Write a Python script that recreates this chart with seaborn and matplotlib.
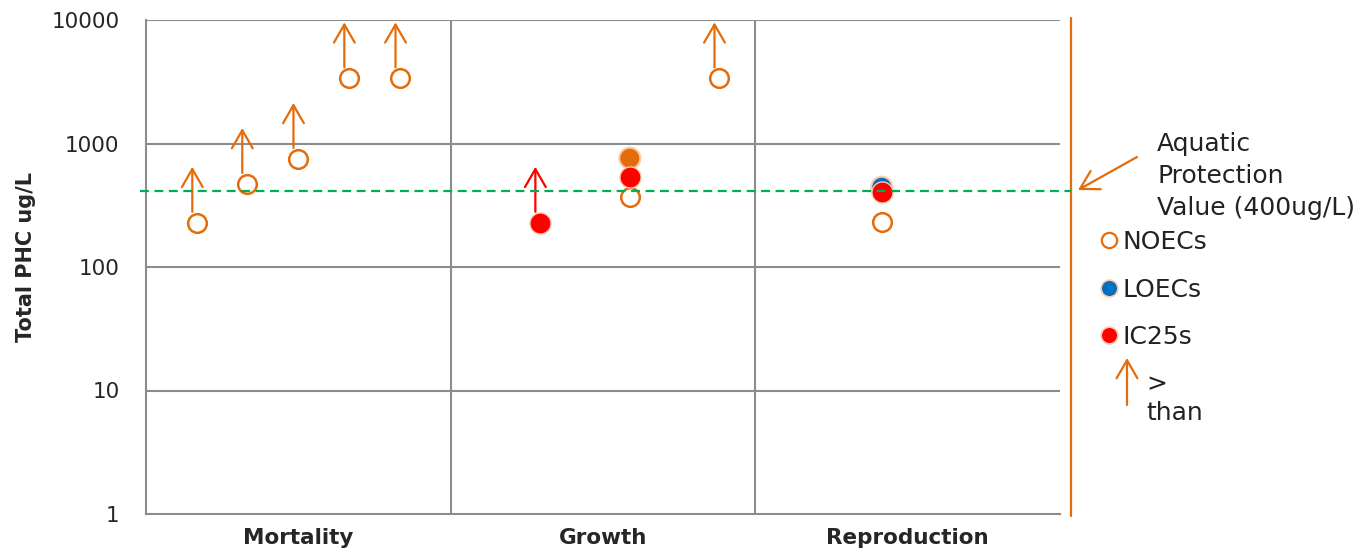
import matplotlib
matplotlib.use("Agg")
import matplotlib.pyplot as plt
import seaborn as sns
from matplotlib.lines import Line2D

# ---- data ----
categories = ["Mortality", "Growth", "Reproduction"]
y_ticks = [1, 10, 100, 1000, 10000]

# NOECs (open circles); True = "greater than" arrow
noec_x = [0.167, 0.331, 0.499, 0.666, 0.834, 1.588, 1.881, 2.415]
noec_y = [228, 470, 750, 3370, 3370, 371, 3370, 233]
noec_gt = [True, True, True, True, True, False, True, False]

# LOECs
loec_x = [1.588, 2.415]
loec_y = [760, 442]
loec_cat = ["Growth", "Reproduction"]

# IC25s
ic25_x = [1.293, 1.588, 2.415]
ic25_y = [228, 532, 407]
ic25_gt = [True, False, False]

protection_value = 415

ORANGE = "#E46C0A"
RED = "#FF0000"
BLUE = "#0070C0"
GREEN = "#00B050"
GRID = "#8C8C8C"
HALO = "#F8CBAD"

sns.set_style("white")
plt.rcParams["font.family"] = ["DejaVu Sans"]

W, H = 1369, 552
fig = plt.figure(figsize=(W / 100, H / 100), dpi=100)
ax = fig.add_axes([146 / W, 38 / H, 914 / W, 494 / H])
ax.set_yscale("log")
ax.set_ylim(1, 10000)
ax.set_xlim(0, 3)

# grid & dividers
for v in y_ticks[1:]:
    ax.axhline(v, color=GRID, lw=1.5, zorder=1)
for d in [1, 2]:
    ax.axvline(d, color=GRID, lw=1.5, zorder=1)
for s in ["top", "right"]:
    ax.spines[s].set_visible(False)
for s in ["left", "bottom"]:
    ax.spines[s].set_color(GRID)
    ax.spines[s].set_linewidth(1.5)

# points
sns.scatterplot(x=noec_x, y=noec_y, ax=ax, marker="o", s=180, color="white",
                edgecolor=ORANGE, linewidth=1.8, zorder=3, legend=False)
sns.scatterplot(x=loec_x, y=loec_y, hue=loec_cat, ax=ax, marker="o", s=230,
                palette={"Growth": ORANGE, "Reproduction": BLUE},
                edgecolor=HALO, linewidth=1.5, zorder=4, legend=False)
sns.scatterplot(x=ic25_x, y=ic25_y, ax=ax, marker="o", s=230, color=RED,
                edgecolor=HALO, linewidth=1.0, zorder=5, legend=False)

# "greater than" arrows (derived from the points)
decade_px = 494 / 4
ARROW = "->,head_width=0.75,head_length=1.3"
def gt_arrow(x, y, color):
    ax.annotate("", xy=(x - 0.015, y * 10 ** (56 / decade_px)),
                xytext=(x - 0.015, y * 10 ** (11 / decade_px)),
                arrowprops=dict(arrowstyle=ARROW, color=color, lw=1.6,
                                shrinkA=0, shrinkB=0, mutation_scale=10),
                zorder=6)

for x, y, g in zip(noec_x, noec_y, noec_gt):
    if g:
        gt_arrow(x, y, ORANGE)
for x, y, g in zip(ic25_x, ic25_y, ic25_gt):
    if g:
        gt_arrow(x, y, RED)

# protection value line (extends past the plot to the orange bar)
ax.plot([-0.007, 1.012], [protection_value, protection_value],
        transform=ax.get_yaxis_transform(), color=GREEN, lw=1.6,
        ls=(0, (4, 2.5)), clip_on=False, zorder=7)
ax.plot([1.012, 1.012], [-0.004, 1.004], transform=ax.transAxes,
        color=ORANGE, lw=1.6, clip_on=False)

# axes text
ax.set_xticks([0.5, 1.5, 2.5])
ax.set_xticklabels(categories, fontsize=15.5, fontweight="bold")
ax.set_yticks(y_ticks)
ax.set_yticklabels([str(t) for t in y_ticks], fontsize=15.5)
ax.minorticks_off()
ax.tick_params(axis="x", length=0, pad=10)
ax.tick_params(axis="y", length=0, pad=19)
ax.set_ylabel("Total PHC ug/L", fontsize=15, fontweight="bold")
ax.yaxis.set_label_coords(-0.120, 0.52)

# annotation for the protection line
ax.annotate("", xy=(1078, H - 190), xycoords="figure pixels",
            xytext=(1137, H - 157), textcoords="figure pixels",
            arrowprops=dict(arrowstyle=ARROW, color=ORANGE, lw=1.6,
                            shrinkA=0, shrinkB=0, mutation_scale=10))
fig.text(1157 / W, 1 - 132 / H, "Aquatic\nProtection\nValue (400ug/L)",
         fontsize=18, va="top", ha="left", linespacing=1.42, color="#222222")

# legend
handles = [
    Line2D([], [], marker="o", ls="", markersize=11, markerfacecolor="white",
           markeredgecolor=ORANGE, markeredgewidth=1.6),
    Line2D([], [], marker="o", ls="", markersize=12, markerfacecolor=BLUE,
           markeredgecolor=HALO, markeredgewidth=1.2),
    Line2D([], [], marker="o", ls="", markersize=12, markerfacecolor=RED,
           markeredgecolor=HALO, markeredgewidth=1.2),
]
fig.legend(handles, ["NOECs", "LOECs", "IC25s"], loc="upper left",
           bbox_to_anchor=(1100 / W, 1 - 230 / H), frameon=False, fontsize=18,
           handlelength=0.7, handletextpad=0.2, labelspacing=0.94,
           borderpad=0, borderaxespad=0, labelcolor="#222222")

ax.annotate("", xy=(1127, H - 358), xycoords="figure pixels",
            xytext=(1127, H - 405), textcoords="figure pixels",
            arrowprops=dict(arrowstyle=ARROW, color=ORANGE, lw=1.6,
                            shrinkA=0, shrinkB=0, mutation_scale=10))
fig.text(1146 / W, 1 - 372 / H, ">\nthan", fontsize=18, va="top", ha="left",
         linespacing=1.25, color="#222222")

fig.savefig("out.png", dpi=100)
